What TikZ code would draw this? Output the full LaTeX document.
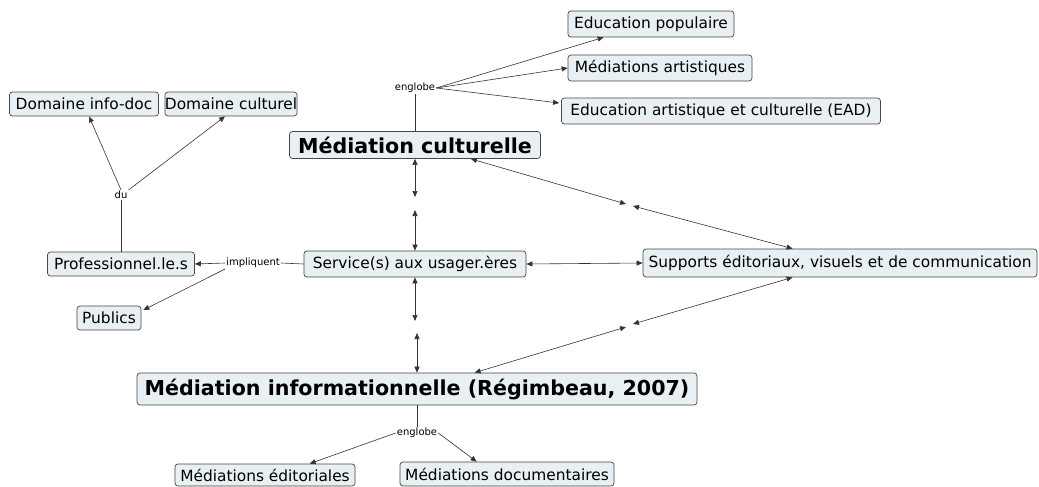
\documentclass[tikz,border=0pt]{standalone}
\usepackage{fontspec}
\setmainfont{DejaVu Sans}
\usetikzlibrary{arrows.meta,calc}
\definecolor{boxfill}{RGB}{232,240,244}
\definecolor{boxline}{RGB}{70,70,70}
\definecolor{linec}{RGB}{50,50,50}
\begin{document}
\begin{tikzpicture}[x=1pt,y=-1pt,
 box/.style={draw=boxline, fill=boxfill, rounded corners=3pt, line width=0.7pt, font=\fontsize{15.4}{18}\selectfont, inner sep=0pt},
 big/.style={box, font=\fontsize{20.6}{24}\selectfont\bfseries},
 lbl/.style={font=\fontsize{10}{11}\selectfont, inner sep=1pt, text=black},
 link/.style={draw=linec, line width=0.6pt},
 arr/.style={link, -{Triangle[length=6pt,width=5pt]}},
 dbl/.style={link, {Triangle[length=6pt,width=5pt]}-{Triangle[length=6pt,width=5pt]}}]
\useasboundingbox (0,0) rectangle (1039,487);
% nodes
\node[box, minimum width=166, minimum height=26] (ep) at (651,24) {Education populaire};
\node[box, minimum width=184, minimum height=26] (ma) at (660,68) {Médiations artistiques};
\node[box, minimum width=319, minimum height=26] (ead) at (721,111) {Education artistique et culturelle (EAD)};
\node[box, minimum width=149, minimum height=24] (did) at (84,104) {Domaine info-doc};
\node[box, minimum width=123, minimum height=24] (dcu) at (231,104) {Domaine culturel};
\node[big, minimum width=251, minimum height=27] (mc) at (415,145) {Médiation culturelle};
\node[box, minimum width=147, minimum height=24] (prof) at (121,264) {Professionnel.le.s};
\node[box, minimum width=64, minimum height=24] (pub) at (109,318) {Publics};
\node[box, minimum width=222, minimum height=26] (serv) at (415,264) {Service(s) aux usager.ères};
\node[box, minimum width=394, minimum height=28] (sup) at (840,263) {Supports éditoriaux, visuels et de communication};
\node[big, minimum width=560, minimum height=32] (mi) at (417,389) {Médiation informationnelle (Régimbeau, 2007)};
\node[box, minimum width=180, minimum height=22] (med) at (265,475) {Médiations éditoriales};
\node[box, minimum width=214, minimum height=24] (mdoc) at (507,474) {Médiations documentaires};
% labels
\node[lbl] (eng1) at (415,88) {englobe};
\node[lbl] (du) at (121,195) {du};
\node[lbl] (imp) at (253,263) {impliquent};
\node[lbl] (eng2) at (417,433) {englobe};
% gap coordinates
\coordinate (g1) at (415,197);
\coordinate (g2) at (415,210);
\coordinate (g3) at (415,321);
\coordinate (g4) at (417,333);
\coordinate (g5) at (626,204);
\coordinate (g6) at (633,206);
\coordinate (g7) at (626,327);
\coordinate (g8) at (633,324);
% connectors
\draw[link] (mc.north) -- (eng1.south);
\draw[arr] (eng1.east) -- ($(ep.south west)+(36,0)$);
\draw[arr] (eng1.east) -- (ma.west);
\draw[arr] (eng1.east) -- ($(ead.west)+(-2,-8)$);
\draw[link] (prof.north) -- (du.south);
\draw[arr] (du.north) -- ($(did.south)+(5,0)$);
\draw[arr] (du.north east) -- ($(dcu.south)+(-6,0)$);
\draw[link] (serv.west) -- (imp.east);
\draw[arr] (imp.west) -- (prof.east);
\draw[arr] (imp.south west) -- ($(pub.east)+(2,-8)$);
\draw[dbl] (mc.south) -- (g1);
\draw[dbl] (g2) -- (serv.north);
\draw[dbl] (serv.south) -- (g3);
\draw[dbl] (g4) -- (mi.north);
\draw[dbl] (serv.east) -- (sup.west);
\draw[dbl] ($(mc.south east)+(-70,0)$) -- (g5);
\draw[dbl] (g6) -- ($(sup.north west)+(150,0)$);
\draw[dbl] ($(mi.north west)+(338,0)$) -- (g7);
\draw[dbl] (g8) -- ($(sup.south west)+(150,0)$);
\draw[link] (mi.south) -- (eng2.north);
\draw[arr] (eng2.west) -- ($(med.north west)+(135,0)$);
\draw[arr] (eng2.east) -- ($(mdoc.north west)+(77,0)$);
\end{tikzpicture}
\end{document}
